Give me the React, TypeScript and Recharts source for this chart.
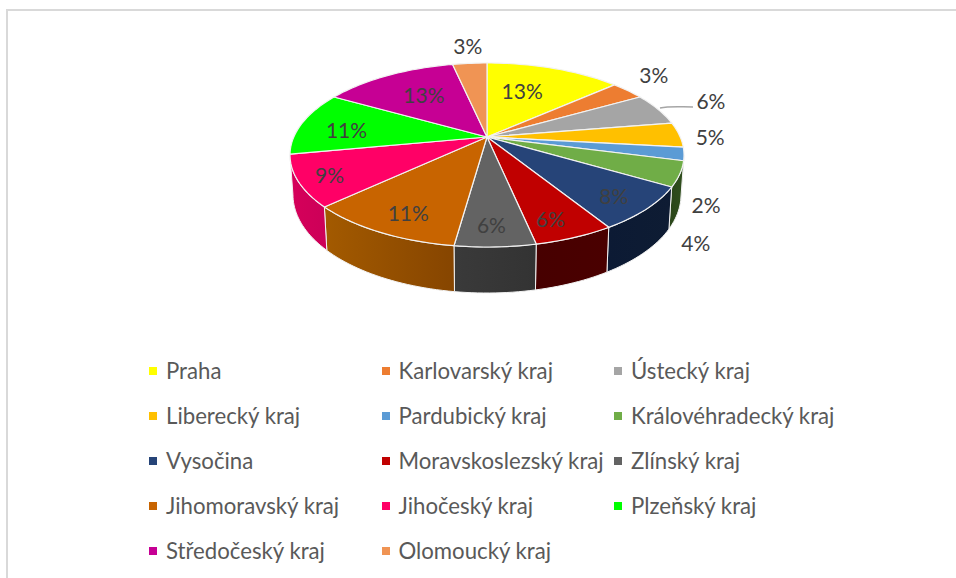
import React from 'react';
import { PieChart, Pie, Legend } from 'recharts';

const regions = [
  'Praha', 'Karlovarský kraj', 'Ústecký kraj', 'Liberecký kraj', 'Pardubický kraj',
  'Královéhradecký kraj', 'Vysočina', 'Moravskoslezský kraj', 'Zlínský kraj',
  'Jihomoravský kraj', 'Jihočeský kraj', 'Plzeňský kraj', 'Středočeský kraj', 'Olomoucký kraj',
];
const shares = [13.4, 3.35, 5.65, 4.4, 2.3, 4.4, 7.7, 5.5, 5.5, 10.8, 9.0, 11.25, 13.35, 3.4];
const shareLabels = ['13%', '3%', '6%', '5%', '2%', '4%', '8%', '6%', '6%', '11%', '9%', '11%', '13%', '3%'];

const COLORS = [
  '#ffff00', '#ed7d31', '#a5a5a5', '#ffc000', '#5b9bd5', '#70ad47', '#264478',
  '#c00000', '#636363', '#c86400', '#ff0066', '#00ff00', '#c60094', '#f09454',
];
// side wall shading, left edge -> right edge of each wall
const WALL_LEFT = [
  '#000', '#000', '#000', '#000', '#000', '#2a4519', '#0c1a34',
  '#470000', '#3a3a3a', '#a35a00', '#d6005a', '#000', '#000', '#000',
];
const WALL_RIGHT = [
  '#000', '#000', '#000', '#000', '#000', '#304f1e', '#0e1c33',
  '#4a0000', '#333333', '#864500', '#cc0058', '#000', '#000', '#000',
];

// inside labels sit at 0.7 of the radius, outside ones start from the rim
const labelRadius = [0.7, 1, 1, 1, 1, 1, 0.7, 0.7, 0.7, 0.7, 0.7, 0.7, 0.7, 1];
const labelNudge = [
  [-14, 4], [26, -16], [53, -9], [31, 2], [22, 51], [16, 69], [20, 11],
  [6, 16], [-1, 16], [-8, 13], [-29, 8], [-10, 2], [9, 2], [-2, -18],
];

const data = regions.map((name, i) => ({ name, value: shares[i], fill: COLORS[i] }));

const CX = 487;
const CY = 137;
const RADIUS = 193.2;
// perspective tilt of the disc
const TILT = 0.1957;
const FORESHORTEN = 61.67;
const WALL_FROM = 101.3;
const WALL_TO = 258.7;

// theta is clockwise from 12 o'clock
function project(theta: number, r = 1) {
  const t = (theta * Math.PI) / 180;
  const u = r * Math.cos(t);
  const x = r * Math.sin(t);
  const w = 1 + TILT * u;
  return { x: CX + (RADIUS * x) / w, y: (CY - FORESHORTEN * u) / w, u };
}

function projectBottom(theta: number) {
  const p = project(theta);
  return { x: CX + (p.x - CX) * 0.985, y: p.y + 38 - 8 * p.u };
}

function arc(from: number, to: number, fn: (t: number) => { x: number; y: number }) {
  const steps = Math.max(2, Math.ceil(Math.abs(to - from) / 1.5));
  const pts: string[] = [];
  for (let i = 0; i <= steps; i++) {
    const p = fn(from + ((to - from) * i) / steps);
    pts.push(`${p.x.toFixed(2)} ${p.y.toFixed(2)}`);
  }
  return pts;
}

const TopFace = (props: any) => {
  const from = 90 - props.startAngle;
  const to = 90 - props.endAngle;
  const d = `M${CX} ${CY} L${arc(from, to, project).join(' L')} Z`;
  return <path d={d} fill={props.fill} stroke="#f2f2f2" strokeWidth={1.2} strokeLinejoin="round" />;
};

const WallFace = (props: any) => {
  const from = Math.max(90 - props.startAngle, WALL_FROM);
  const to = Math.min(90 - props.endAngle, WALL_TO);
  if (to <= from) return <g />;
  const i = regions.indexOf(props.name ?? props.payload?.name);
  const top = arc(from, to, project);
  const bottom = arc(to, from, projectBottom);
  const id = `wall-${i}`;
  return (
    <g>
      <defs>
        <linearGradient id={id} x1="0" y1="0" x2="1" y2="0">
          <stop offset="0%" stopColor={WALL_LEFT[i]} />
          <stop offset="100%" stopColor={WALL_RIGHT[i]} />
        </linearGradient>
      </defs>
      <path d={`M${top.join(' L')} L${bottom.join(' L')} Z`} fill={`url(#${id})`} stroke="#f2f2f2" strokeWidth={1} strokeLinejoin="round" />
    </g>
  );
};

const renderLabel = (props: any) => {
  const i = props.index;
  const p = project(90 - props.midAngle, labelRadius[i]);
  const x = p.x + labelNudge[i][0];
  const y = p.y + labelNudge[i][1];
  return (
    <g key={i}>
      {i === 2 && (
        <path d="M660 108 C670 106 680 107 693 107" fill="none" stroke="#a6a6a6" strokeWidth={1.5} />
      )}
      <text x={x} y={y} textAnchor="middle" dominantBaseline="central" fill="#404040" fontSize={21} fontFamily="Lato">
        {shareLabels[i]}
      </text>
    </g>
  );
};

const renderLegend = () => (
  <div style={{ display: 'grid', gridTemplateColumns: 'repeat(3, 232.5px)', gridAutoRows: '45px', fontFamily: 'Lato', fontSize: 22.2, color: '#595959' }}>
    {regions.map((name, i) => (
      <div key={name} style={{ display: 'flex', alignItems: 'center', whiteSpace: 'nowrap', height: 45 }}>
        <span style={{ width: 8, height: 8, marginRight: 9, background: COLORS[i], display: 'inline-block' }} />
        {name}
      </div>
    ))}
  </div>
);

export default function App() {
  return (
    <div style={{ position: 'absolute', left: 0, top: 0, width: 956, height: 578, overflow: 'hidden', background: '#fff' }}>
      <div style={{ position: 'absolute', left: 6, top: 9, right: 0, bottom: 0, borderTop: '2px solid #d9d9d9', borderLeft: '2px solid #d9d9d9' }} />
      <PieChart width={956} height={578} margin={{ top: 0, right: 0, bottom: 0, left: 0 }}>
        <Pie
          data={data}
          dataKey="value"
          nameKey="name"
          cx={CX}
          cy={CY}
          outerRadius={RADIUS}
          startAngle={90}
          endAngle={-270}
          legendType="none"
          shape={WallFace}
          stroke="none"
          isAnimationActive={false}
        />
        <Pie
          data={data}
          dataKey="value"
          nameKey="name"
          cx={CX}
          cy={CY}
          outerRadius={RADIUS}
          startAngle={90}
          endAngle={-270}
          shape={TopFace}
          label={renderLabel}
          labelLine={false}
          isAnimationActive={false}
        />
        <Legend content={renderLegend} wrapperStyle={{ position: 'absolute', left: 149, top: 348, width: 720, bottom: 'auto' }} />
      </PieChart>
    </div>
  );
}
